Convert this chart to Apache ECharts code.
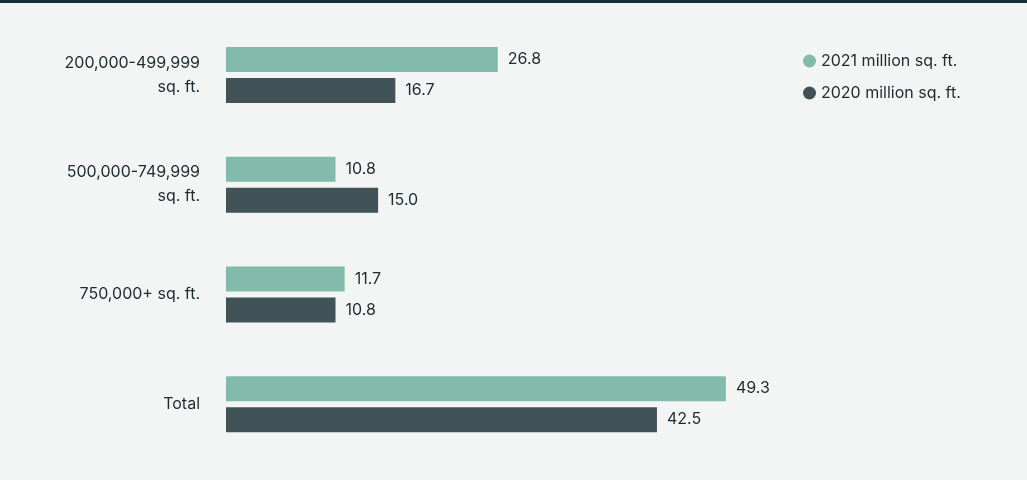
<!DOCTYPE html>
<html><head><meta charset="utf-8">
<script src="https://cdn.jsdelivr.net/npm/echarts@6/dist/echarts.min.js"></script>
<style>html,body{margin:0;padding:0;background:#f3f5f4;}#c{width:1027px;height:480px;border-top:3px solid #12313a;box-sizing:border-box;}</style>
</head><body><div id="c"></div>
<script>
const categories = ['200,000-499,999\nsq. ft.', '500,000-749,999\nsq. ft.', '750,000+ sq. ft.', 'Total'];
const values2021 = [26.8, 10.8, 11.7, 49.3];
const values2020 = [16.7, 15.0, 10.8, 42.5];
const chart = echarts.init(document.getElementById('c'));
const font = 'Inter, "Noto Sans", sans-serif';
const lbl = {show:true, position:'right', distance:10, color:'#1c2b2f', fontSize:16, fontFamily:font, formatter:p=>p.value.toFixed(1)};
chart.setOption({
  backgroundColor:'#f3f5f4',
  animation:false,
  grid:{left:226, right:294, top:17, bottom:21},
  legend:{orient:'vertical', left:798, top:45, itemGap:16, icon:'circle', itemWidth:13, itemHeight:13,
    textStyle:{fontSize:16, fontFamily:font, color:'#1c2b2f'}},
  xAxis:{type:'value', min:0, max:50, show:false},
  yAxis:{type:'category', inverse:true, data:categories, axisLine:{show:false}, axisTick:{show:false},
    axisLabel:{fontSize:16, fontFamily:font, color:'#1c2b2f', margin:26, lineHeight:24}},
  series:[
    {name:'2021 million sq. ft.', type:'bar', data:values2021, barWidth:25, barGap:'24%', itemStyle:{color:'#82bbac'}, label:lbl},
    {name:'2020 million sq. ft.', type:'bar', data:values2020, barWidth:25, itemStyle:{color:'#425357'}, label:lbl}
  ]
});
</script></body></html>
